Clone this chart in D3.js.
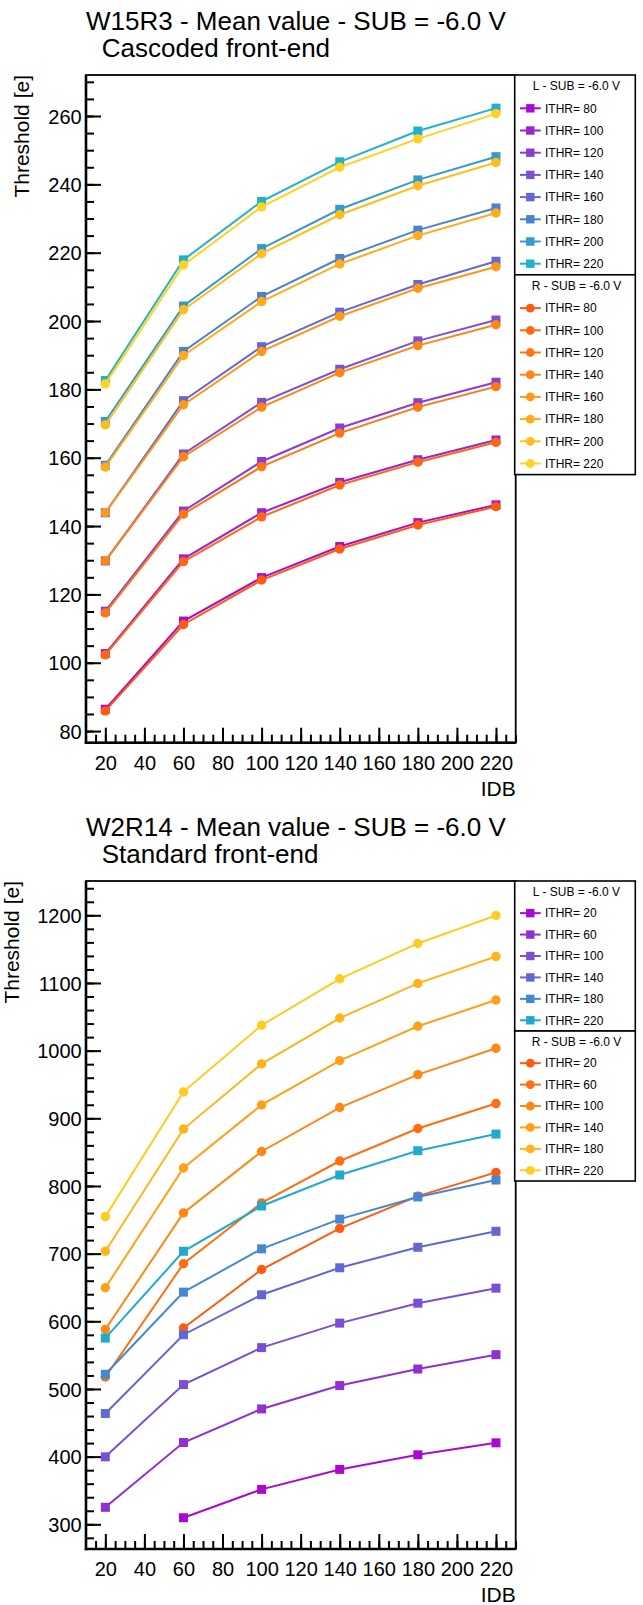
<!DOCTYPE html>
<html><head><meta charset="utf-8">
<script src="https://cdn.jsdelivr.net/npm/d3@7"></script>
<style>
body{margin:0;background:#fff}
svg text{font-family:"Liberation Sans",Arial,Helvetica,sans-serif;fill:#000}
</style>
</head><body>
<svg id="c" width="643" height="1605"></svg>
<script>
// ---------------- DATA ----------------
const IDB = [20, 60, 100, 140, 180, 220];
const xTickLabels = [20, 40, 60, 80, 100, 120, 140, 160, 180, 200, 220];

// Chart 1 : W15R3, cascoded front-end
const c1Title = "W15R3 - Mean value - SUB = -6.0 V";
const c1Subtitle = "Cascoded front-end";
const c1YTicks = [80, 100, 120, 140, 160, 180, 200, 220, 240, 260];
const c1ITHR = [80, 100, 120, 140, 160, 180, 200, 220];
const c1L = [
  [86.4, 112.2, 124.9, 134.0, 141.0, 146.2],
  [102.7, 130.4, 143.9, 152.8, 159.4, 165.2],
  [115.1, 144.4, 158.9, 168.7, 176.1, 182.1],
  [129.8, 161.1, 176.2, 185.9, 194.2, 200.3],
  [143.9, 176.7, 192.5, 202.6, 210.7, 217.5],
  [157.8, 191.1, 207.2, 218.3, 226.6, 233.1],
  [170.6, 204.4, 221.2, 232.7, 241.3, 248.1],
  [182.6, 217.9, 235.0, 246.6, 255.6, 262.3]
];
const c1R = [
  [85.9, 111.2, 124.2, 133.3, 140.3, 145.7],
  [102.3, 129.6, 142.7, 152.0, 158.7, 164.5],
  [114.6, 143.5, 157.4, 167.2, 174.8, 180.8],
  [129.8, 160.3, 174.8, 184.9, 192.8, 198.9],
  [143.9, 175.5, 191.1, 201.4, 209.6, 215.9],
  [157.3, 189.9, 205.7, 216.7, 225.0, 231.6],
  [169.6, 203.3, 219.7, 231.1, 239.6, 246.4],
  [181.6, 216.4, 233.4, 245.0, 253.3, 260.7]
];

// Chart 2 : W2R14, standard front-end
const c2Title = "W2R14 - Mean value - SUB = -6.0 V";
const c2Subtitle = "Standard front-end";
const c2YTicks = [300, 400, 500, 600, 700, 800, 900, 1000, 1100, 1200];
const c2ITHR = [20, 60, 100, 140, 180, 220];
const c2L = [
  [null, 309.7, 351.6, 381.1, 402.7, 420.4],
  [325.1, 420.9, 470.5, 505.0, 529.5, 550.7],
  [399.7, 506.5, 561.1, 597.3, 626.8, 649.0],
  [463.7, 580.2, 639.2, 679.1, 709.4, 733.0],
  [521.7, 643.1, 707.1, 751.0, 783.8, 808.8],
  [575.2, 703.5, 770.4, 816.2, 852.1, 876.7]
];
const c2R = [
  [null, 590.0, 676.5, 737.3, 785.0, 820.1],
  [517.7, 685.0, 775.0, 836.9, 884.9, 921.8],
  [588.1, 760.2, 851.0, 915.9, 964.6, 1003.5],
  [649.6, 826.5, 919.9, 985.3, 1036.0, 1074.8],
  [703.5, 884.1, 980.4, 1048.2, 1099.4, 1139.2],
  [754.7, 939.1, 1037.5, 1106.2, 1158.4, 1199.7]
];

// ---------------- STYLE ----------------
const c1LColors = ["#a80ccf","#9a24d0","#8c3cd2","#7c52d2","#6468d0","#4a82d0","#349ccc","#20b2cc"];
const c1RColors = ["#ff5a12","#ff6712","#ff7612","#ff8614","#ff9816","#ffab1a","#ffbe1e","#ffd224"];
const c2LColors = ["#aa0acf","#9030d0","#7a50d2","#6268d0","#4688d0","#22aacc"];
const c2RColors = ["#ff5a12","#ff6e12","#ff8814","#ffa018","#ffb41c","#ffcc22"];

const svg = d3.select("#c");
const X0 = 86, X1 = 515.7;
const x = d3.scaleLinear().domain([10.1, 230.1]).range([X0, X1]);

function drawChart(o) {
  const g = svg.append("g");
  const y = d3.scaleLinear().domain(o.yDomain).range([o.bottom, o.top]);

  // titles
  g.append("text").attr("x", 86).attr("y", o.top - 45).style("font-size", "26px").text(o.title);
  g.append("text").attr("x", 101.7).attr("y", o.top - 18).style("font-size", "26px").text(o.subtitle);

  // minor ticks
  const minorY = d3.range(Math.ceil(o.yDomain[0] / o.yMinor) * o.yMinor, o.yDomain[1], o.yMinor);
  g.append("g").attr("transform", `translate(${X0},0)`)
    .call(d3.axisLeft(y).tickValues(minorY).tickSize(-8).tickFormat(""))
    .call(s => { s.select(".domain").remove(); s.selectAll("line").attr("stroke-width", 2); });
  const minorX = d3.range(15, 231, 5);
  g.append("g").attr("transform", `translate(0,${o.bottom})`)
    .call(d3.axisBottom(x).tickValues(minorX).tickSize(-8).tickFormat(""))
    .call(s => { s.select(".domain").remove(); s.selectAll("line").attr("stroke-width", 2); });

  // major ticks + labels
  g.append("g").attr("transform", `translate(${X0},0)`)
    .call(d3.axisLeft(y).tickValues(o.yTicks).tickSize(-15).tickPadding(4.3).tickFormat(d3.format("d")))
    .call(s => {
      s.select(".domain").remove();
      s.selectAll("line").attr("stroke-width", 2);
      s.selectAll("text").style("font-size", "20px").attr("dy", "0.36em")
        .style("font-family", "'Liberation Sans',Arial,sans-serif").attr("fill", "#000");
    });
  g.append("g").attr("transform", `translate(0,${o.bottom})`)
    .call(d3.axisBottom(x).tickValues(xTickLabels).tickSize(-15).tickPadding(13).tickFormat(d3.format("d")))
    .call(s => {
      s.select(".domain").remove();
      s.selectAll("line").attr("stroke-width", 2);
      s.selectAll("text").style("font-size", "20px")
        .style("font-family", "'Liberation Sans',Arial,sans-serif").attr("fill", "#000");
    });

  // frame
  g.append("rect").attr("x", X0).attr("y", o.top).attr("width", X1 - X0).attr("height", o.bottom - o.top)
    .attr("fill", "none").attr("stroke", "#000").attr("stroke-width", 1.8);
  g.append("line").attr("x1", X0).attr("x2", X0).attr("y1", o.top).attr("y2", o.bottom + 1.2)
    .attr("stroke", "#000").attr("stroke-width", 2.6);
  g.append("line").attr("x1", X0 - 1.2).attr("x2", X1).attr("y1", o.bottom).attr("y2", o.bottom)
    .attr("stroke", "#000").attr("stroke-width", 2.6);

  // axis titles
  g.append("text").attr("transform", `translate(${o.yTitleX},${o.top}) rotate(-90)`)
    .attr("text-anchor", "end").style("font-size", "21px").text("Threshold [e]");
  g.append("text").attr("x", X1).attr("y", o.bottom + 53).attr("text-anchor", "end")
    .style("font-size", "21px").text("IDB");

  // series (interleaved L_i, R_i)
  const line = d3.line().defined(d => d[1] != null).x(d => x(d[0])).y(d => y(d[1]));
  o.ithr.forEach((t, i) => {
    [["L", o.L[i], o.LColors[i]], ["R", o.R[i], o.RColors[i]]].forEach(([kind, vals, col]) => {
      const pts = IDB.map((d, j) => [d, vals[j]]);
      g.append("path").attr("d", line(pts)).attr("fill", "none").attr("stroke", col).attr("stroke-width", 2);
      const pp = pts.filter(d => d[1] != null);
      if (kind === "L") {
        g.selectAll(null).data(pp).enter().append("rect")
          .attr("x", d => x(d[0]) - 4.5).attr("y", d => y(d[1]) - 4.5)
          .attr("width", 9).attr("height", 9).attr("fill", col);
      } else {
        g.selectAll(null).data(pp).enter().append("circle")
          .attr("cx", d => x(d[0])).attr("cy", d => y(d[1])).attr("r", 4.7).attr("fill", col);
      }
    });
  });

  // legends
  const LX0 = 514.7, LX1 = 635.3, rh = o.rowH;
  function legend(top, header, kind, colors) {
    const n = o.ithr.length + 1;
    const lg = g.append("g");
    lg.append("rect").attr("x", LX0).attr("y", top).attr("width", LX1 - LX0).attr("height", n * rh)
      .attr("fill", "#fff").attr("stroke", "#000").attr("stroke-width", 1.6);
    lg.append("text").attr("x", (LX0 + LX1) / 2 + 1.5).attr("y", top + rh * 0.5 + 4.3)
      .attr("text-anchor", "middle").style("font-size", "12px").text(header);
    o.ithr.forEach((t, i) => {
      const cy = top + rh * (i + 1.5);
      lg.append("line").attr("x1", 520).attr("x2", 540.7).attr("y1", cy).attr("y2", cy)
        .attr("stroke", colors[i]).attr("stroke-width", 2);
      if (kind === "L") {
        lg.append("rect").attr("x", 530.3 - 4.2).attr("y", cy - 4.2).attr("width", 8.4).attr("height", 8.4).attr("fill", colors[i]);
      } else {
        lg.append("circle").attr("cx", 530.3).attr("cy", cy).attr("r", 4.4).attr("fill", colors[i]);
      }
      lg.append("text").attr("x", 545).attr("y", cy + 4.3).style("font-size", "12px").text("ITHR= " + t);
    });
    return top + n * rh;
  }
  const b1 = legend(o.top, "L - SUB = -6.0 V", "L", o.LColors);
  legend(b1, "R - SUB = -6.0 V", "R", o.RColors);
}

drawChart({
  top: 75, bottom: 742.7, yDomain: [76.6, 272.0], yTicks: c1YTicks, yMinor: 5,
  title: c1Title, subtitle: c1Subtitle, ithr: c1ITHR, L: c1L, R: c1R,
  LColors: c1LColors, RColors: c1RColors, rowH: 22.2, yTitleX: 29.3
});
drawChart({
  top: 881, bottom: 1549, yDomain: [263.5, 1250.7], yTicks: c2YTicks, yMinor: 20,
  title: c2Title, subtitle: c2Subtitle, ithr: c2ITHR, L: c2L, R: c2R,
  LColors: c2LColors, RColors: c2RColors, rowH: 21.43, yTitleX: 19.3
});
</script>
</body></html>
